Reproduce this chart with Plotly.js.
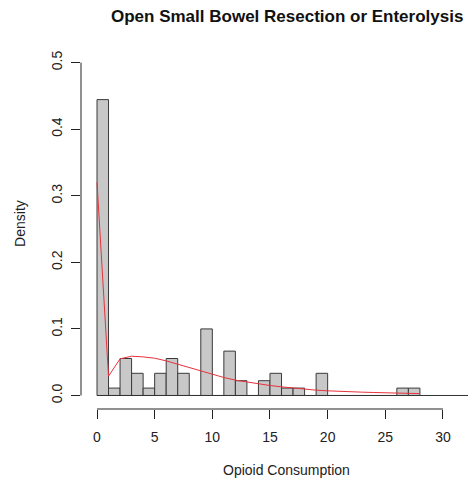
<!DOCTYPE html>
<html>
<head>
<meta charset="utf-8">
<script src="https://cdn.plot.ly/plotly-3.0.1.min.js"></script>
<style>html,body{margin:0;padding:0;background:#fff;}#chart{width:468px;height:484px;}</style>
</head>
<body>
<div id="chart"></div>
<script>
// Histogram bins (width 1) and counts (n = 90)
const binStarts = [0,1,2,3,4,5,6,7,8,9,10,11,12,13,14,15,16,17,18,19,20,21,22,23,24,25,26,27];
const binCounts = [40,1,5,3,1,3,5,3,0,9,0,6,2,0,2,3,1,1,0,3,0,0,0,0,0,0,1,1];
// Red density curve, read at integer points
const curveX = [0,1,2,3,4,5,6,7,8,9,10,11,12,13,14,15,16,17,18,19,20,21,22,23,24,25,26,27,28];
const curveY = [0.32,0.029,0.055,0.059,0.058,0.056,0.052,0.047,0.041,0.036,0.031,0.027,0.023,0.020,0.017,0.015,0.013,0.011,0.0095,0.008,0.007,0.006,0.0055,0.005,0.0045,0.004,0.0035,0.003,0.0028];
const xTicks = [0,5,10,15,20,25,30];
const yTicks = [0,0.1,0.2,0.3,0.4,0.5];
const yTickText = ["0.0","0.1","0.2","0.3","0.4","0.5"];
const titleText = "Open Small Bowel Resection or Enterolysis";
const xTitle = "Opioid Consumption";
const yTitle = "Density";

const total = binCounts.reduce((a,b)=>a+b,0);
const binWidth = 1;
const density = binCounts.map(c => c/(total*binWidth));
const centers = binStarts.map(s => s + binWidth/2);

const xRange = [-1.387, 32.17];
const yRange = [-0.0203, 0.534];
const fontFam = "Liberation Sans, Arial, Helvetica, sans-serif";

const traces = [
  {type:'bar', x:centers, y:density, width:binWidth,
   marker:{color:'#c8c8c8', line:{color:'#3a3a3a', width:1}},
   hoverinfo:'skip'},
  {type:'scatter', mode:'lines', x:curveX, y:curveY,
   line:{color:'#e8323c', width:1}, hoverinfo:'skip'}
];

const layout = {
  width:468, height:484,
  margin:{l:81, r:0, t:40, b:75},
  paper_bgcolor:'#fff', plot_bgcolor:'#fff',
  showlegend:false, bargap:0,
  font:{family:fontFam, color:'#222', size:14},
  xaxis:{range:xRange, tickvals:xTicks, ticks:'outside', ticklen:9, tickcolor:'#222', tickwidth:1, ticklabelstandoff:6,
         showline:false, showgrid:false, zeroline:false, tickfont:{size:14, color:'#222'}, fixedrange:true},
  yaxis:{range:yRange, tickvals:yTicks, ticktext:yTickText, ticks:'outside', ticklen:9, tickcolor:'#222', tickwidth:1, ticklabelstandoff:3,
         tickangle:-90, showline:false, showgrid:false, zeroline:false, tickfont:{size:14, color:'#222'}, fixedrange:true},
  shapes:[
    {type:'line', xref:'x', yref:'paper', x0:xTicks[0], x1:xTicks[xTicks.length-1], y0:0, y1:0, line:{color:'#222', width:1}},
    {type:'line', xref:'paper', yref:'y', x0:0, x1:0, y0:yTicks[0], y1:yTicks[yTicks.length-1], line:{color:'#222', width:1}},
    {type:'line', xref:'x', yref:'y', x0:0, x1:xRange[1], y0:0, y1:0, line:{color:'#333', width:1}}
  ],
  annotations:[
    {text:'<b>'+titleText+'</b>', xref:'paper', yref:'paper', x:0.532, y:1.065, xanchor:'center', yanchor:'middle',
     showarrow:false, font:{size:17, color:'#111', family:fontFam}},
    {text:xTitle, xref:'paper', yref:'paper', x:0.532, y:-0.165, xanchor:'center', yanchor:'middle',
     showarrow:false, font:{size:14, color:'#222', family:fontFam}},
    {text:yTitle, xref:'paper', yref:'paper', x:-0.158, y:0.504, xanchor:'center', yanchor:'middle', textangle:-90,
     showarrow:false, font:{size:14, color:'#222', family:fontFam}}
  ]
};

Plotly.newPlot('chart', traces, layout, {displayModeBar:false, staticPlot:true});
</script>
</body>
</html>
